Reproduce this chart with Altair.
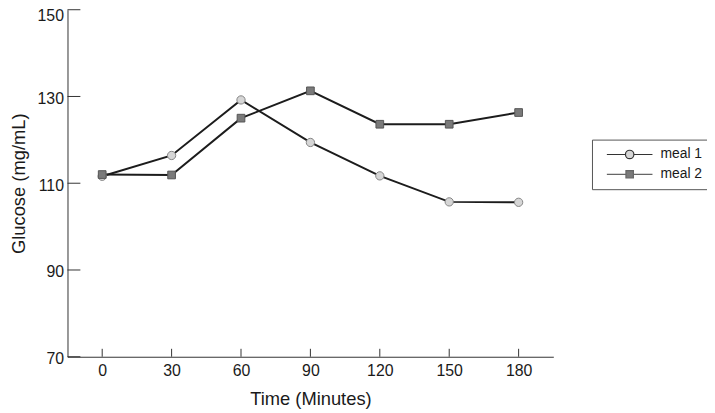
import altair as alt
import pandas as pd

# ---- data ----
time = [0, 30, 60, 90, 120, 150, 180]
meal1 = [111.6, 116.4, 129.2, 119.4, 111.7, 105.7, 105.6]
meal2 = [112.0, 111.9, 125.0, 131.3, 123.6, 123.6, 126.3]
series_names = ["meal 1", "meal 2"]
x_ticks = [0, 30, 60, 90, 120, 150, 180]
y_ticks = [70, 90, 110, 130, 150]

rows = []
for t, a, b in zip(time, meal1, meal2):
    rows.append({"time": t, "glucose": a, "series": series_names[0]})
    rows.append({"time": t, "glucose": b, "series": series_names[1]})
df = pd.DataFrame(rows)

W, H = 490, 350
FONT = "Liberation Sans"

xscale = alt.Scale(domain=[-15, 195], nice=False, zero=False)
yscale = alt.Scale(domain=[70, 150], nice=False, zero=False)

x_axis = alt.Axis(values=x_ticks, title="Time (Minutes)", ticks=False, grid=False,
                  labelPadding=6, titlePadding=11)
y_axis = alt.Axis(values=y_ticks, title="Glucose (mg/mL)", ticks=False, grid=False,
                  labelPadding=4, titlePadding=9,
                  labelOffset={"condition": {"test": "datum.value == 150", "value": 6},
                               "value": 2})

base = alt.Chart(df)

lines = base.mark_line(color="#1c1c1c", strokeWidth=2).encode(
    x=alt.X("time:Q", scale=xscale, axis=x_axis),
    y=alt.Y("glucose:Q", scale=yscale, axis=y_axis),
    detail="series:N",
)

pts1 = base.transform_filter(alt.datum.series == series_names[0]).mark_point(
    shape="circle", filled=True, size=70, fill="#d6d6d6", stroke="#858585",
    strokeWidth=1, opacity=1
).encode(x=alt.X("time:Q", scale=xscale), y=alt.Y("glucose:Q", scale=yscale))

pts2 = base.transform_filter(alt.datum.series == series_names[1]).mark_point(
    shape="square", filled=True, size=60, fill="#7a7a7a", stroke="#555555",
    strokeWidth=1, opacity=1
).encode(x=alt.X("time:Q", scale=xscale), y=alt.Y("glucose:Q", scale=yscale))

# legend symbols: a line with a marker in the middle (unit = sqrt(size)/2 px)
circ_path = ("M-4.6,0H-0.85M0.85,0H4.6"
             "M-0.85,0A0.85,0.85 0 1,1 0.85,0A0.85,0.85 0 1,1 -0.85,0Z")
sq_path = "M-4.6,0H-0.75M0.75,0H4.6M-0.75,-0.75H0.75V0.75H-0.75Z"

leg = alt.Legend(
    title=None, orient="none", legendX=529, legendY=131,
    padding=8, strokeColor="#555555", fillColor="white",
    labelFont=FONT, labelFontSize=14, labelColor="#1a1a1a",
    rowPadding=6, labelOffset=24, symbolOffset=23,
    symbolSize=100, symbolOpacity=1,
    symbolStrokeWidth=1.2, cornerRadius=0,
)

legend_layer = base.mark_point(filled=False, opacity=0, strokeWidth=1.2, size=100).encode(
    x=alt.X("time:Q", scale=xscale),
    y=alt.Y("glucose:Q", scale=yscale),
    shape=alt.Shape("series:N", legend=leg,
                    scale=alt.Scale(domain=series_names, range=[circ_path, sq_path])),
    fill=alt.Fill("series:N", legend=leg,
                  scale=alt.Scale(domain=series_names, range=["#d6d6d6", "#7a7a7a"])),
    stroke=alt.Stroke("series:N", legend=leg,
                      scale=alt.Scale(domain=series_names, range=["#333333", "#666666"])),
)

ytick_df = pd.DataFrame({"glucose": y_ticks})
xtick_df = pd.DataFrame({"time": x_ticks})

yt = alt.Chart(ytick_df).mark_rule(color="#333333", strokeWidth=1).encode(
    y=alt.Y("glucose:Q", scale=yscale), x=alt.value(0), x2=alt.value(13)
)
xt = alt.Chart(xtick_df).mark_rule(color="#333333", strokeWidth=1).encode(
    x=alt.X("time:Q", scale=xscale), y=alt.value(H - 8), y2=alt.value(H)
)

chart = alt.layer(lines, pts1, pts2, legend_layer, yt, xt).properties(
    width=W, height=H,
    padding={"left": 60, "top": 0, "right": 155, "bottom": 54},
    autosize=alt.AutoSizeParams(type="none"),
).configure_view(stroke=None).configure_axis(
    labelFont=FONT, titleFont=FONT, labelFontSize=16, titleFontSize=18.5,
    titleFontWeight="normal", labelColor="#1a1a1a", titleColor="#1a1a1a",
    domainColor="#333333", domainWidth=1,
)

chart.save("out.html", embed_options={"renderer": "svg", "actions": False})
